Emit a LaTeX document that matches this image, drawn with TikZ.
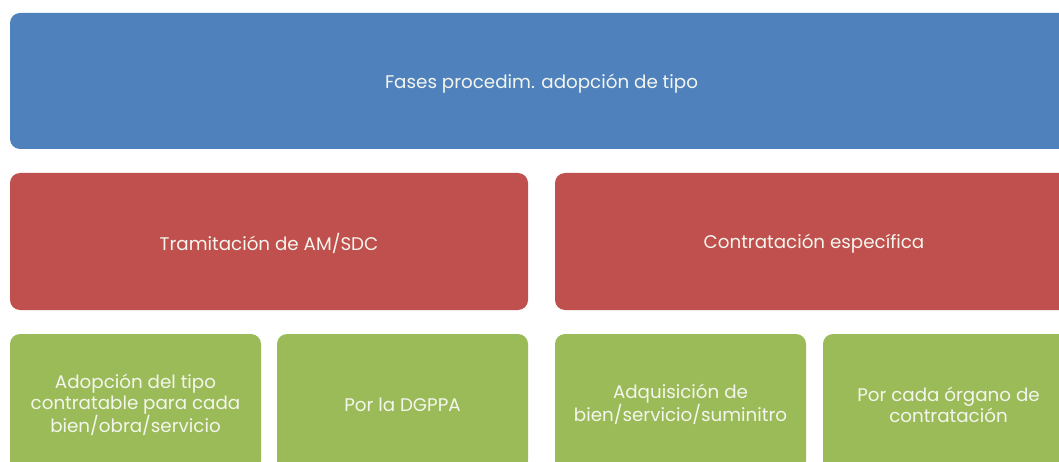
\documentclass[tikz,border=0pt]{standalone}
\usepackage{fontspec}
\setmainfont{Poppins}
\definecolor{cblue}{HTML}{4F81BD}
\definecolor{cred}{HTML}{C0504D}
\definecolor{cgreen}{HTML}{9BBB59}
\definecolor{ctext}{HTML}{F4F6EE}
\tikzset{
  box/.style={rounded corners=10pt, inner sep=0pt},
  lbl/.style={text=ctext, align=center, font=\fontsize{18.3}{21}\selectfont, inner sep=0pt}
}
\begin{document}
\begin{tikzpicture}[x=1pt,y=-1pt]
\useasboundingbox (0,0) rectangle (1059,462);
\clip (0,0) rectangle (1059,462);
\fill[box, cblue] (10,13) rectangle (1073,149);
\node[lbl] (top) at (541.5,84) {Fases procedim. adopción de tipo};
\fill[box, cred] (10,173) rectangle (528,310);
\node[lbl] (r1) at (269,243.5) {Tramitación de AM/SDC};
\fill[box, cred] (555,173) rectangle (1073,310);
\node[lbl] (r2) at (814,243.5) {Contratación específica};
\fill[box, cgreen] (10,334) rectangle (261,471);
\node[lbl] (g1) at (135.5,404.5) {Adopción del tipo\\contratable para cada\\bien/obra/servicio};
\fill[box, cgreen] (277,334) rectangle (528,471);
\node[lbl] (g2) at (402.5,405) {Por la DGPPA};
\fill[box, cgreen] (555,334) rectangle (806,471);
\node[lbl] (g3) at (680.5,404.5) {Adquisición de\\bien/servicio/suminitro};
\fill[box, cgreen] (823,334) rectangle (1074,471);
\node[lbl] (g4) at (948.5,404.5) {Por cada órgano de\\contratación};
\end{tikzpicture}
\end{document}
